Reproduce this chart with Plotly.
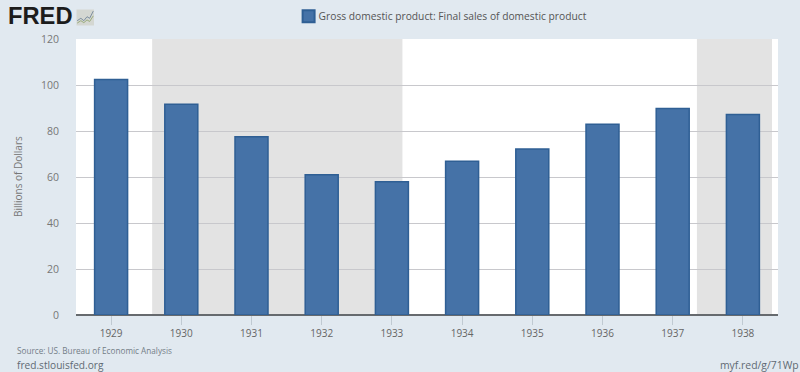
import plotly.graph_objects as go

years = [1929, 1930, 1931, 1932, 1933, 1934, 1935, 1936, 1937, 1938]
gdp = [102.4, 91.6, 77.5, 61.0, 57.9, 66.8, 72.2, 82.9, 89.8, 87.2]
series_name = "Gross domestic product: Final sales of domestic product"
recessions = [(1929.585, 1933.15), (1937.345, 1938.415)]
y_ticks = [0, 20, 40, 60, 80, 100, 120]
icon_a = [(0.04, 0.3), (0.25, 0.45), (0.42, 0.3), (0.6, 0.55), (0.75, 0.45), (0.96, 0.9)]
icon_b = [(0.04, 0.15), (0.25, 0.3), (0.42, 0.18), (0.6, 0.35), (0.75, 0.25), (0.96, 0.6)]

BG = "#e1e9f0"
FONT = "Open Sans"
W, H = 800, 372
L, R, T, B = 76, 778, 39, 315

fig = go.Figure(go.Bar(
    x=years, y=gdp, name=series_name, width=0.47,
    marker=dict(color="#4572a7", line=dict(color="#2f5f94", width=1.5)),
    showlegend=True,
))

shapes = []
for a, b in recessions:
    shapes.append(dict(type="rect", xref="x", yref="paper", x0=a, x1=b, y0=0, y1=1,
                       fillcolor="#e3e3e3", line_width=0, layer="below"))

# small FRED logo icon, placed by pixel position on the page
ix0, iy0, iw, ih = 76.5, 9.5, 17.5, 16
def px(u): return (ix0 + u * iw - L) / (R - L)
def py(v): return (B - (iy0 + (1 - v) * ih)) / (B - T)
shapes.append(dict(type="rect", xref="paper", yref="paper", x0=px(0), x1=px(1), y0=py(0), y1=py(1),
                   fillcolor="#d4d7d2", line_width=0, layer="above"))
for pts, col in ((icon_a, "#7d8fa0"), (icon_b, "#9aab7c")):
    d = "M " + " L ".join(f"{px(u):.4f},{py(v):.4f}" for u, v in pts)
    shapes.append(dict(type="path", xref="paper", yref="paper", path=d,
                       line=dict(color=col, width=1), layer="above"))

def note(text, x, y, size, color="#6f7a85", anchor="left", family=FONT):
    return dict(text=text, xref="paper", yref="paper",
                x=(x - L) / (R - L), y=(B - y) / (B - T),
                xanchor=anchor, yanchor="middle", showarrow=False, xshift=0, yshift=0,
                font=dict(family=family, size=size, color=color))

annotations = [
    note("<b>FRED</b>", 6, 16.5, 23.7, "#1c1c1c", family="Liberation Sans"),
    note("Source: US. Bureau of Economic Analysis", 15, 350, 8.2, "#737d87"),
    note("fred.stlouisfed.org", 15, 364.5, 10.15, "#5f6973"),
    note("Billions of Dollars", 18, 177, 10, "#777777"),
    note("myf.red/g/71Wp", 800.5, 364.5, 10.4, "#5f6973", anchor="right"),
]
annotations[3].update(textangle=-90, xanchor="center")

fig.update_layout(
    width=W, height=H, autosize=False,
    margin=dict(l=L, r=W - R, t=T, b=H - B, pad=0, autoexpand=False),
    paper_bgcolor=BG, plot_bgcolor="#ffffff",
    font=dict(family=FONT, color="#666666"),
    shapes=shapes, annotations=annotations,
    legend=dict(orientation="h", x=0.5265, xanchor="center", y=0.995, yanchor="top",
                yref="container", bgcolor="rgba(0,0,0,0)",
                font=dict(family=FONT, size=10.25, color="#555555"),
                itemsizing="constant"),
    xaxis=dict(range=[1928.5, 1938.5], tickvals=years, ticktext=[str(y) for y in years],
               showgrid=False, zeroline=False, showline=False,
               ticks="outside", ticklen=9, tickwidth=1, tickcolor="#c0cad2",
               tickfont=dict(family=FONT, size=10, color="#666666")),
    yaxis=dict(range=[0, 120], tickvals=y_ticks, showgrid=True, gridcolor="#c8c8cc", gridwidth=1,
               zeroline=True, zerolinecolor="#666a6e", zerolinewidth=2, showline=False,
               ticks="", ticklabelstandoff=16,
               tickfont=dict(family=FONT, size=10.5, color="#777777")),
)

post = """
document.body.style.margin='0';
document.documentElement.style.overflow='hidden';
function tightenLegend(){document.querySelectorAll('.legendtext').forEach(function(t){t.setAttribute('x','30');});}
tightenLegend(); setTimeout(tightenLegend,50);
"""
fig.write_html("out.html", post_script=post, config={"displayModeBar": False})
